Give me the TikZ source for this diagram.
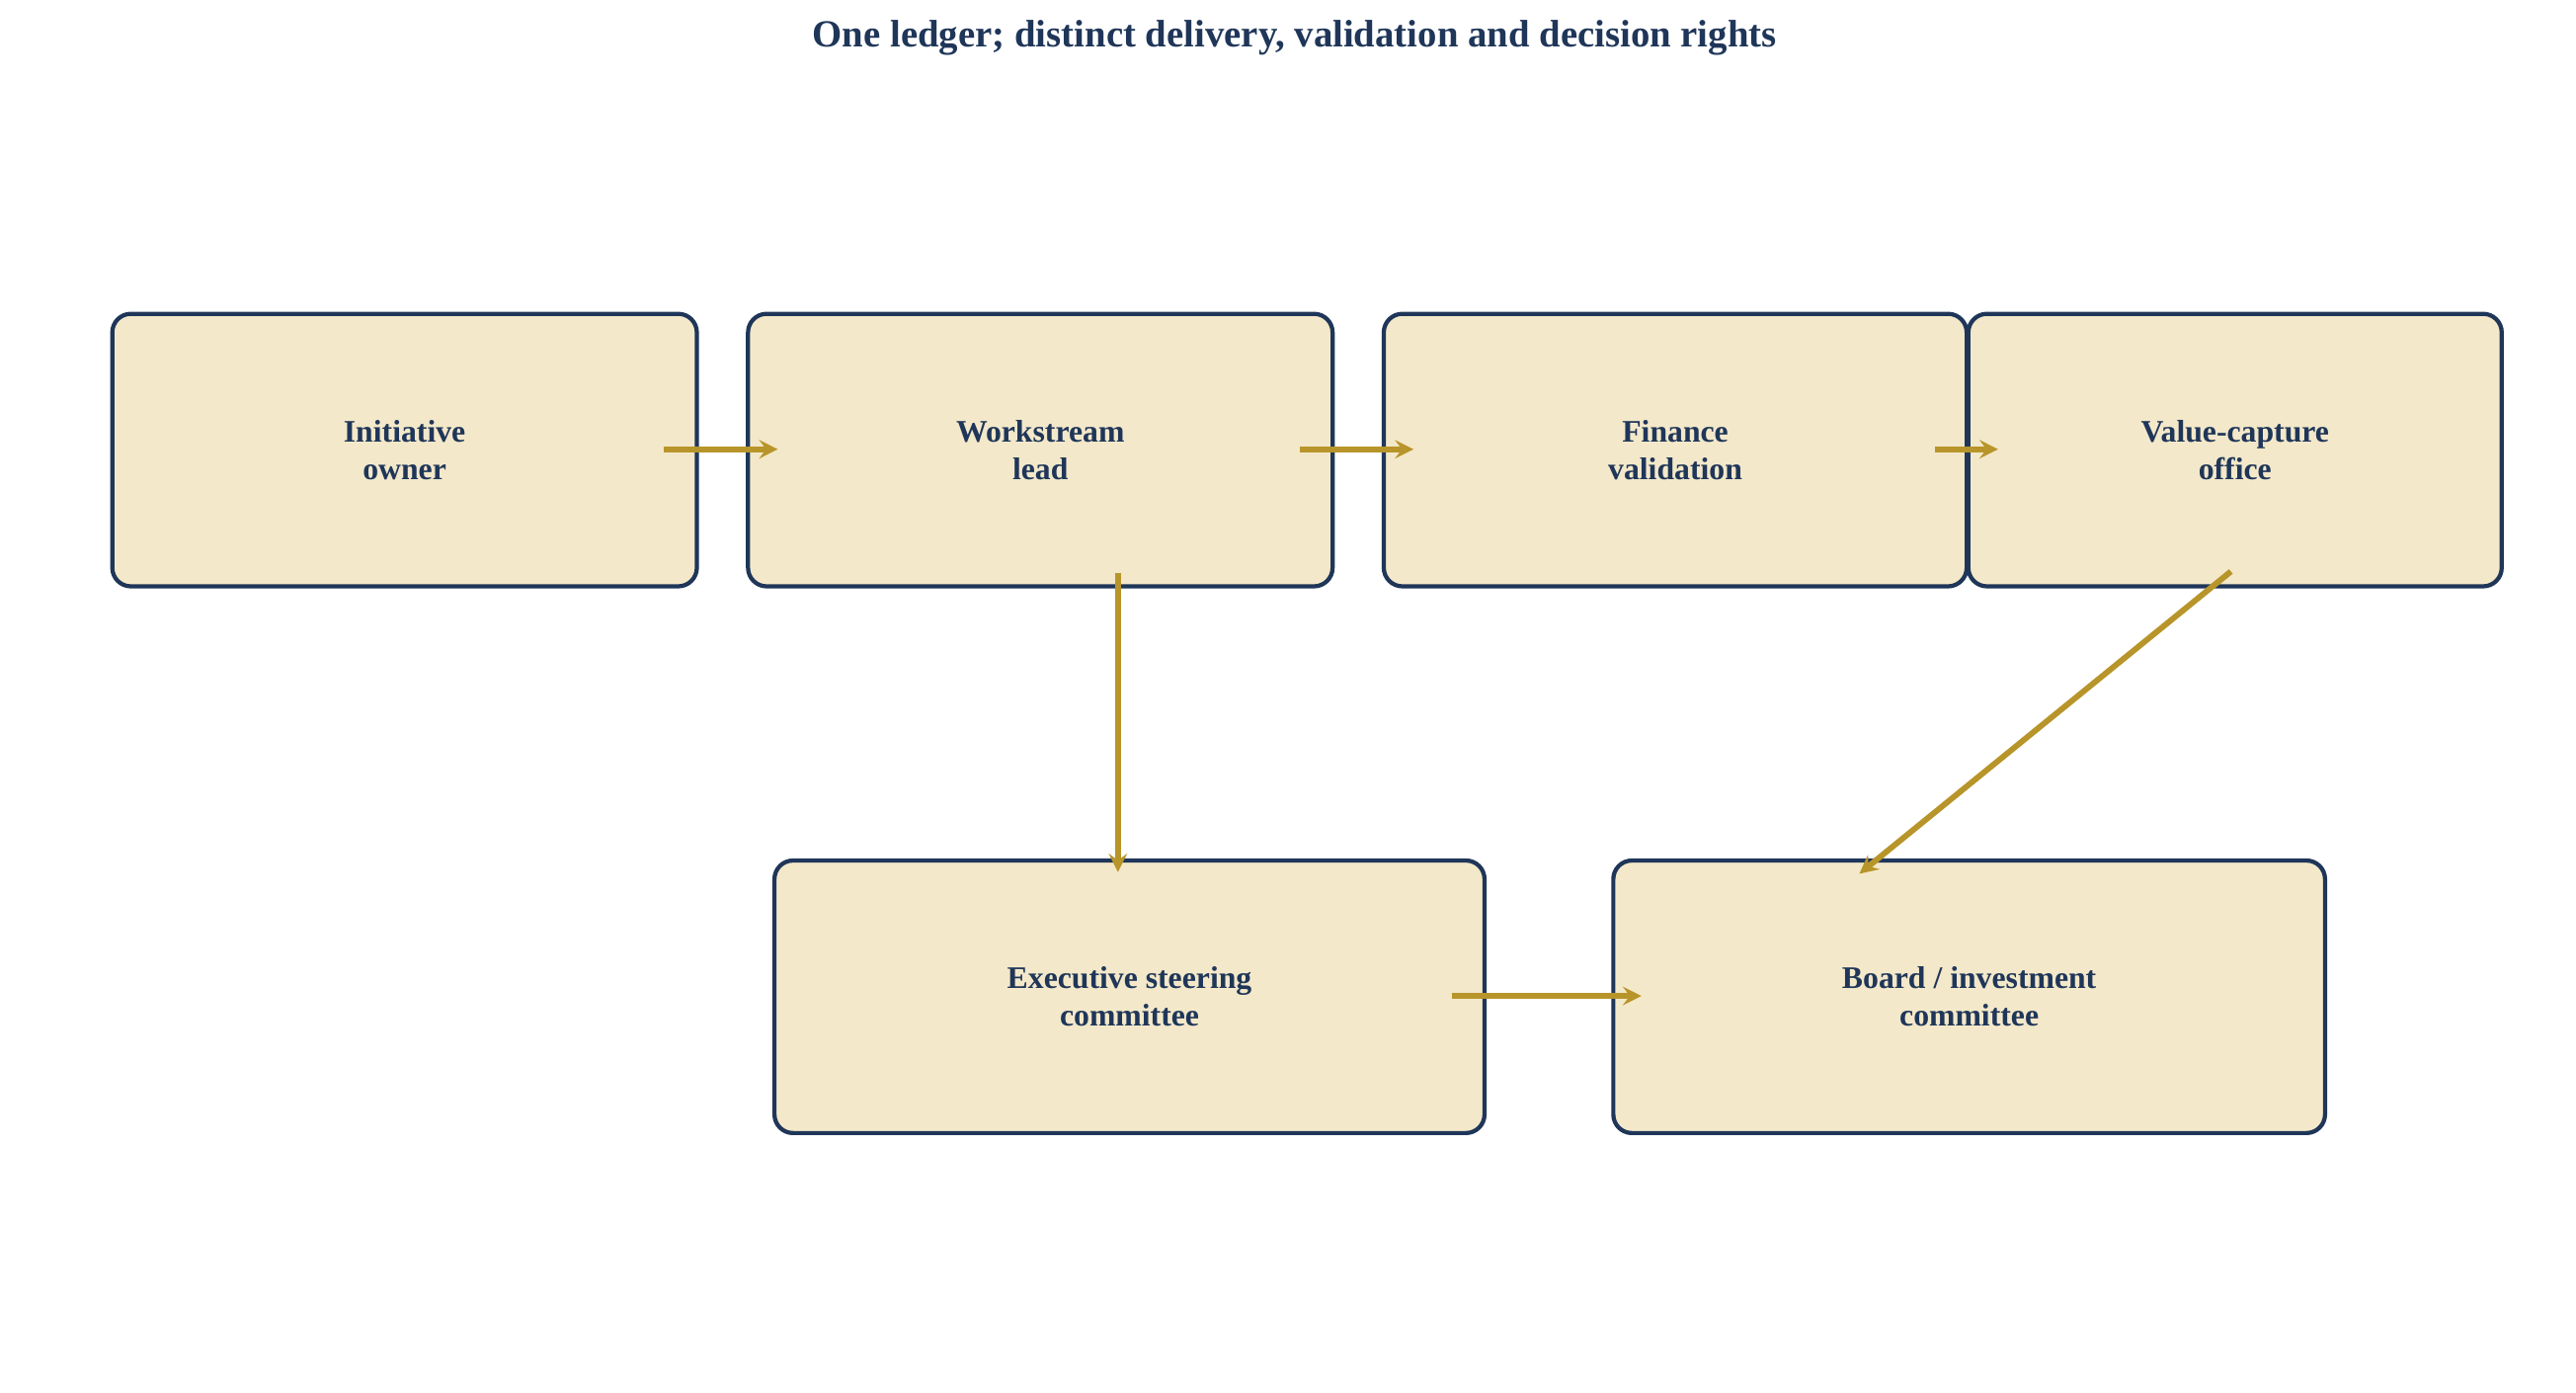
\documentclass[tikz,border=0pt]{standalone}
\usepackage{fontspec}
\setmainfont{Liberation Serif}
\usetikzlibrary{arrows.meta}
\definecolor{navy}{HTML}{1F3659}
\definecolor{boxfill}{HTML}{F3E8C9}
\definecolor{gold}{HTML}{B8952A}
\begin{document}
\begin{tikzpicture}[x=0.05cm,y=-0.05cm,
  box/.style={draw=navy,fill=boxfill,line width=3.6pt,rounded corners=16pt,inner sep=0pt,
    font=\fontsize{27}{32}\selectfont\bfseries,text=navy,align=center},
  arr/.style={draw=gold,line width=5pt,-{Stealth[length=16pt,width=16pt,inset=6pt]}}]
\useasboundingbox (0,0) rectangle (1560,843);
\node[font=\fontsize{33}{38}\selectfont\bfseries,text=navy] (title) at (784,23) {One ledger; distinct delivery, validation and decision rights};
\node[box,minimum width=354*0.05cm,minimum height=165*0.05cm] (A) at (245,272.5) {Initiative\\owner};
\node[box,minimum width=354*0.05cm,minimum height=165*0.05cm] (B) at (630,272.5) {Workstream\\lead};
\node[box,minimum width=353*0.05cm,minimum height=165*0.05cm] (C) at (1014.5,272.5) {Finance\\validation};
\node[box,minimum width=323*0.05cm,minimum height=165*0.05cm] (D) at (1353.5,272.5) {Value-capture\\office};
\node[box,minimum width=430*0.05cm,minimum height=165*0.05cm] (E) at (684,603.5) {Executive steering\\committee};
\node[box,minimum width=431*0.05cm,minimum height=165*0.05cm] (F) at (1192.5,603.5) {Board / investment\\committee};
\coordinate (a1) at (402,272); \coordinate (b1) at (471,272);
\coordinate (b2) at (787,272); \coordinate (c1) at (856,272);
\coordinate (c2) at (1172,272); \coordinate (d1) at (1210,272);
\coordinate (b3) at (677,347); \coordinate (e1) at (677,528);
\coordinate (d2) at (1351,346); \coordinate (f1) at (1126,529);
\coordinate (e2) at (879,603); \coordinate (f2) at (994,603);
\draw[arr] (a1) -- (b1);
\draw[arr] (b2) -- (c1);
\draw[arr] (c2) -- (d1);
\draw[arr] (b3) -- (e1);
\draw[arr] (d2) -- (f1);
\draw[arr] (e2) -- (f2);
\end{tikzpicture}
\end{document}
